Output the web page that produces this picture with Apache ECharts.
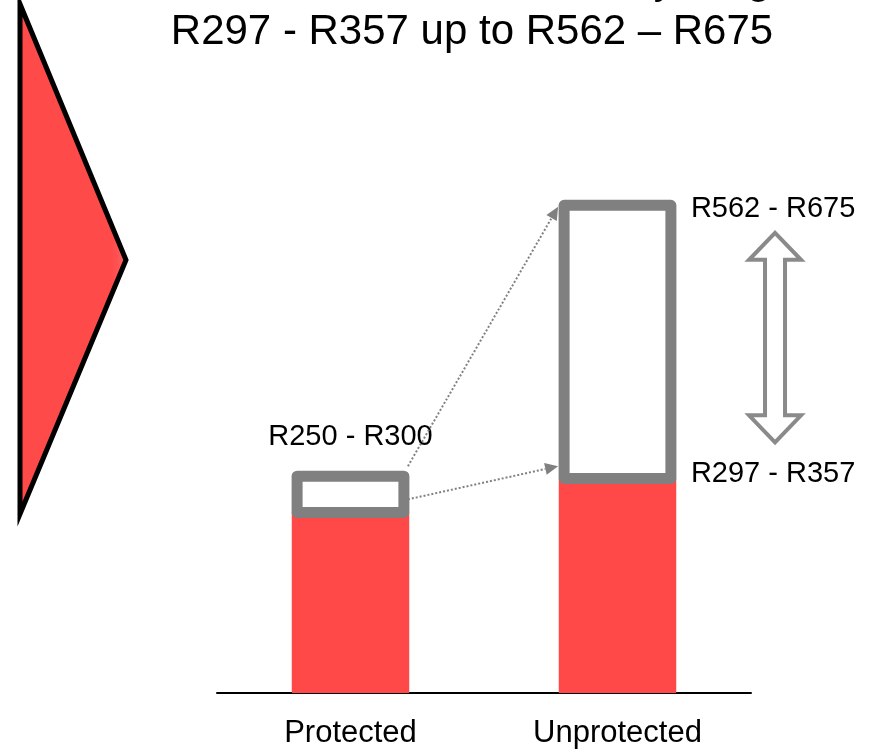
<!DOCTYPE html>
<html>
<head>
<meta charset="utf-8">
<script src="https://cdn.jsdelivr.net/npm/echarts@6/dist/echarts.min.js"></script>
<style>
  html, body { margin: 0; padding: 0; background: #fff; }
  #chart { width: 869px; height: 749px; }
</style>
</head>
<body>
<div id="chart"></div>
<script>
// price bands (Rand)
const categories = ['Protected', 'Unprotected']
const redBase = [250, 297]            // red bar = bottom of the band
const lowRange = [[250, 300], [297, 357]]
const highRange = [null, [562, 675]]
// dotted connectors: [value at Protected side, value at Unprotected side]
const connectors = [[314, 673], [268, 314]]
// double arrow next to Unprotected
const arrowSpan = [347, 637]
const titleLines = ['Total cost moves to a monthly range of', 'R297 - R357 up to R562 \u2013 R675']

const FONT = 'Liberation Sans, Arial, sans-serif'
const GREY = '#808080'
const RED = '#ff4848'

const chart = echarts.init(document.getElementById('chart'))

function bandLabel (r) {
  return 'R' + r[0] + ' - R' + r[1]
}

const option = {
  animation: false,
  title: [
    {
      // first line is mostly cut off by the top edge
      text: titleLines[0],
      left: 481,
      top: -40,
      padding: 0,
      textAlign: 'center',
      textStyle: { fontFamily: FONT, fontSize: 42, lineHeight: 42, fontWeight: 'normal', color: '#000' }
    },
    {
      text: titleLines[1],
      left: 472,
      top: 11,
      padding: 0,
      textAlign: 'center',
      textStyle: { fontFamily: FONT, fontSize: 42, lineHeight: 42, fontWeight: 'normal', color: '#000' }
    }
  ],
  graphic: [
    {
      // big red pointer on the left
      type: 'polygon',
      shape: { points: [[20, 4], [126, 260], [20, 514]] },
      style: {
        fill: new echarts.graphic.LinearGradient(0, 0, 1, 0, [
          { offset: 0, color: '#ff4a4a' },
          { offset: 0.85, color: '#ff4a4a' },
          { offset: 1, color: '#ff6464' }
        ]),
        stroke: '#000',
        lineWidth: 5,
        lineJoin: 'miter'
      },
      z: 10
    }
  ],
  grid: { left: 217, right: 118, top: 115, bottom: 55 },
  xAxis: {
    type: 'category',
    data: categories,
    axisTick: { show: false },
    axisLine: { lineStyle: { color: '#000', width: 2 } },
    axisLabel: { color: '#000', fontFamily: FONT, fontSize: 31, margin: 25 }
  },
  yAxis: {
    type: 'value',
    min: 0,
    max: 800,
    show: false,
    splitLine: { show: false }
  },
  series: [
    {
      type: 'bar',
      data: redBase,
      barWidth: '44%',
      itemStyle: { color: RED },
      z: 2
    },
    {
      // grey framed box for the price band + its labels
      type: 'custom',
      z: 4,
      data: categories.map((c, i) => [i, lowRange[i][0], highRange[i] ? highRange[i][1] : lowRange[i][1]]),
      encode: { x: 0, y: [1, 2] },
      renderItem: function (params, api) {
        const i = api.value(0)
        const lo = api.coord([i, api.value(1)])
        const hi = api.coord([i, api.value(2)])
        const bw = api.size([1, 0])[0] * 0.4
        const children = [{
          type: 'rect',
          shape: { x: lo[0] - bw / 2, y: hi[1], width: bw, height: lo[1] - hi[1] },
          style: { fill: '#fff', stroke: GREY, lineWidth: 11, lineJoin: 'round' }
        }]
        const txt = { fontFamily: FONT, fontSize: 29, fill: '#000' }
        if (highRange[i]) {
          const lx = lo[0] + bw / 2 + 20
          children.push({
            type: 'text',
            style: Object.assign({ text: bandLabel(highRange[i]), x: lx, y: hi[1] + 4, align: 'left', verticalAlign: 'middle' }, txt)
          })
          children.push({
            type: 'text',
            style: Object.assign({ text: bandLabel(lowRange[i]), x: lx, y: lo[1] - 4, align: 'left', verticalAlign: 'middle' }, txt)
          })
        } else {
          children.push({
            type: 'text',
            style: Object.assign({ text: bandLabel(lowRange[i]), x: lo[0], y: hi[1] - 39, align: 'center', verticalAlign: 'middle' }, txt)
          })
        }
        return { type: 'group', children: children }
      }
    },
    {
      // dotted arrows from Protected box to Unprotected box
      type: 'custom',
      z: 5,
      data: connectors.map(c => [0, c[0], 1, c[1]]),
      encode: { x: [0, 2], y: [1, 3] },
      renderItem: function (params, api) {
        const half = api.size([1, 0])[0] * 0.215
        const a = api.coord([api.value(0), api.value(1)])
        const b = api.coord([api.value(2), api.value(3)])
        const x0 = a[0] + half
        const y0 = a[1]
        const x1 = b[0] - half - 2
        const y1 = b[1]
        const len = Math.hypot(x1 - x0, y1 - y0)
        const dx = (x1 - x0) / len
        const dy = (y1 - y0) / len
        const hl = 13
        const hw = 6
        const bx = x1 - dx * hl
        const by = y1 - dy * hl
        return {
          type: 'group',
          children: [
            {
              type: 'line',
              shape: { x1: x0, y1: y0, x2: bx, y2: by },
              style: { stroke: GREY, lineWidth: 2, lineDash: [2, 2] }
            },
            {
              type: 'polygon',
              shape: { points: [[x1, y1], [bx - dy * hw, by + dx * hw], [bx + dy * hw, by - dx * hw]] },
              style: { fill: GREY }
            }
          ]
        }
      }
    },
    {
      // hollow double arrow beside Unprotected
      type: 'custom',
      z: 5,
      data: [[1, arrowSpan[0], arrowSpan[1]]],
      encode: { x: 0, y: [1, 2] },
      renderItem: function (params, api) {
        const lo = api.coord([api.value(0), api.value(1)])
        const hi = api.coord([api.value(0), api.value(2)])
        const cx = lo[0] + api.size([1, 0])[0] * 0.59
        const ty = hi[1]
        const by = lo[1]
        const hw = 26
        const sw = 10
        const hl = 27
        const pts = [
          [cx, ty], [cx + hw, ty + hl], [cx + sw, ty + hl], [cx + sw, by - hl], [cx + hw, by - hl],
          [cx, by], [cx - hw, by - hl], [cx - sw, by - hl], [cx - sw, ty + hl], [cx - hw, ty + hl]
        ]
        return {
          type: 'polygon',
          shape: { points: pts },
          style: { fill: '#fff', stroke: '#8a8a8a', lineWidth: 4, lineJoin: 'miter' }
        }
      }
    }
  ]
}

chart.setOption(option)
</script>
</body>
</html>
